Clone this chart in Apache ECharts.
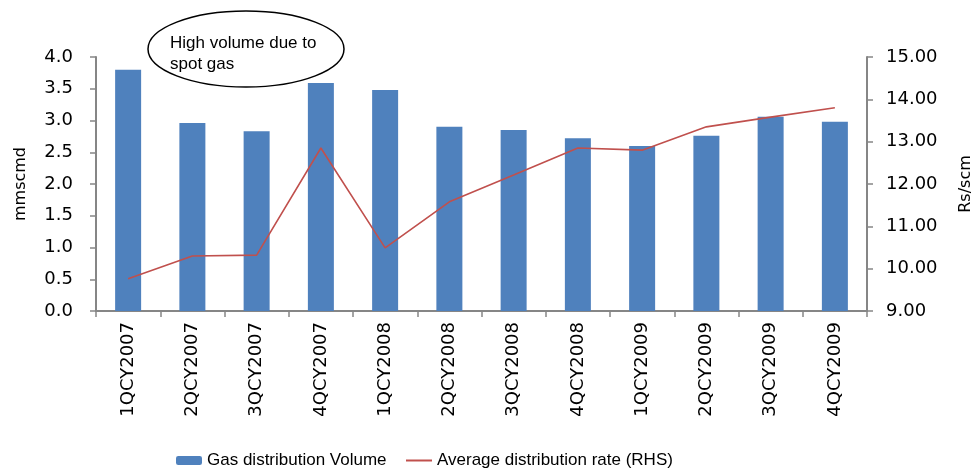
<!DOCTYPE html>
<html><head><meta charset="utf-8">
<script src="https://cdn.jsdelivr.net/npm/echarts@6/dist/echarts.min.js"></script>
<style>html,body{margin:0;padding:0;background:#fff;overflow:hidden}#c{width:974px;height:468px}</style>
</head><body><div id="c"></div>
<script>
var categories = ['1QCY2007','2QCY2007','3QCY2007','4QCY2007','1QCY2008','2QCY2008','3QCY2008','4QCY2008','1QCY2009','2QCY2009','3QCY2009','4QCY2009'];
var volume = [3.80, 2.96, 2.83, 3.59, 3.48, 2.90, 2.85, 2.72, 2.60, 2.76, 3.06, 2.98];
var rate = [9.76, 10.30, 10.32, 12.85, 10.49, 11.58, 12.21, 12.85, 12.80, 13.35, 13.58, 13.80];
var leftTicks = {min: 0, max: 4, interval: 0.5};
var rightTicks = {min: 9, max: 15, interval: 1};

var chart = echarts.init(document.getElementById('c'));
var F = 'DejaVu Sans';
var axisLine = {show: true, lineStyle: {color: '#868686', width: 2}};
chart.setOption({
  animation: false,
  grid: {left: 96, right: 107, top: 57, bottom: 157, outerBoundsMode: 'none', containLabel: false},
  legend: [
    {data: ['Gas distribution Volume'], left: 171, top: 447, itemWidth: 26, itemHeight: 9, itemGap: 4,
     textStyle: {fontFamily: 'Liberation Sans', fontSize: 17, color: '#000'}},
    {data: [{name: 'Average distribution rate (RHS)', icon: 'rect'}], left: 401, top: 447, itemWidth: 26, itemHeight: 2,
     textStyle: {fontFamily: 'Liberation Sans', fontSize: 17, color: '#000'}}
  ],
  xAxis: {
    type: 'category', data: categories,
    axisLine: axisLine,
    axisTick: {show: true, length: 6, lineStyle: {color: '#868686', width: 1.5}},
    axisLabel: {rotate: 90, margin: 11, fontFamily: F, fontSize: 18, color: '#000'}
  },
  yAxis: [
    {type: 'value', min: leftTicks.min, max: leftTicks.max, interval: leftTicks.interval,
     name: 'mmscmd', nameLocation: 'middle', nameRotate: 90, nameGap: 67,
     nameTextStyle: {fontFamily: F, fontSize: 16, color: '#000'},
     axisLine: axisLine, axisTick: {show: true, length: 6, lineStyle: {color: '#868686', width: 1.5}},
     splitLine: {show: false},
     axisLabel: {fontFamily: F, fontSize: 18, color: '#000', margin: 23,
       formatter: function (v) { return v.toFixed(1); }}},
    {type: 'value', min: rightTicks.min, max: rightTicks.max, interval: rightTicks.interval,
     name: 'Rs/scm', nameLocation: 'middle', nameRotate: 90, nameGap: 91,
     nameTextStyle: {fontFamily: F, fontSize: 16, color: '#000'},
     axisLine: axisLine, axisTick: {show: true, length: 6, lineStyle: {color: '#868686', width: 1.5}},
     splitLine: {show: false},
     axisLabel: {fontFamily: F, fontSize: 18, color: '#000', margin: 19,
       formatter: function (v) { return v.toFixed(2); }}}
  ],
  series: [
    {name: 'Gas distribution Volume', type: 'bar', data: volume, barWidth: 26,
     itemStyle: {color: '#4F81BD'}},
    {name: 'Average distribution rate (RHS)', type: 'line', yAxisIndex: 1, data: rate,
     symbol: 'none', lineStyle: {color: '#C0504D', width: 1.6}, itemStyle: {color: '#C0504D'}}
  ],
  graphic: [
    {type: 'ellipse', shape: {cx: 246, cy: 49, rx: 98, ry: 38},
     style: {fill: '#fff', stroke: '#000', lineWidth: 1.5}, z: 100},
    {type: 'text', left: 170, top: 33, z: 101,
     style: {text: 'High volume due to\nspot gas', font: '17px "Liberation Sans"', fill: '#000', lineHeight: 21}}
  ]
});
</script></body></html>
